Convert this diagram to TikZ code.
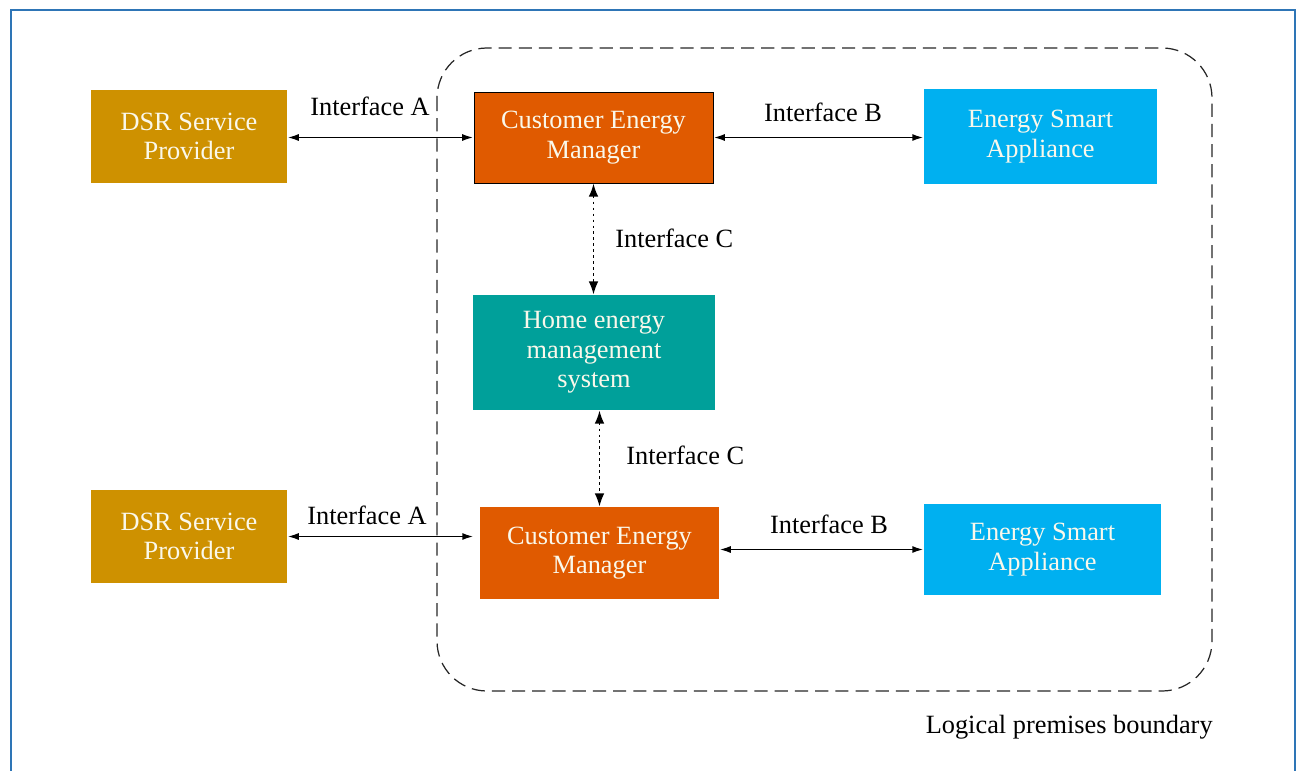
\documentclass[tikz,border=0pt]{standalone}
\usepackage{fontspec}
\setmainfont{Liberation Serif}
\usetikzlibrary{arrows.meta}

\definecolor{dsrgold}{RGB}{206,145,0}
\definecolor{cemorange}{RGB}{224,90,0}
\definecolor{esablue}{RGB}{0,176,240}
\definecolor{hemsteal}{RGB}{0,160,154}
\definecolor{frameblue}{RGB}{46,117,182}
\definecolor{boxtext}{RGB}{250,248,235}

\begin{document}
\begin{tikzpicture}[x=0.02cm,y=-0.02cm,
        font=\fontsize{15}{16.8}\selectfont,
        unit/.style={text=boxtext,align=center,inner sep=0pt},
        link/.style={{Latex[length=6.5pt,width=4pt]}-{Latex[length=6.5pt,width=4pt]},line width=1.1pt},
        dotlink/.style={{Latex[length=7.5pt,width=5.5pt]}-{Latex[length=7.5pt,width=5.5pt]},line width=1.1pt,dash pattern=on 1.6pt off 1.8pt},
        lbl/.style={inner sep=0pt}]
    \useasboundingbox (0,0) rectangle (1299,771);
    \draw[frameblue,line width=1.2pt] (11,771)--(11,10)--(1295,10)--(1295,771);

    % premises boundary
    \draw[black!85,line width=0.7pt,dash pattern=on 7.5pt off 4pt,rounded corners=1cm]
        (437,48) rectangle (1212,691);
    \node[lbl,anchor=east] (bound) at (1213,727) {Logical premises boundary};

    % top row
    \node[unit,fill=dsrgold,minimum width=3.92cm,minimum height=1.86cm] (dsrA) at (189,136.5) {DSR Service\\Provider};
    \node[unit,fill=cemorange,draw=black,line width=0.5pt,minimum width=4.78cm,minimum height=1.82cm] (cemA) at (593.5,137.5) {Customer Energy\\Manager};
    \node[unit,fill=esablue,minimum width=4.66cm,minimum height=1.9cm] (esaA) at (1040.5,136.5) {Energy Smart\\Appliance};

    % middle
    \node[unit,fill=hemsteal,minimum width=4.84cm,minimum height=2.3cm] (hems) at (594,352.5) {Home energy\\management\\system};

    % bottom row
    \node[unit,fill=dsrgold,minimum width=3.92cm,minimum height=1.86cm] (dsrB) at (189,536.5) {DSR Service\\Provider};
    \node[unit,fill=cemorange,minimum width=4.78cm,minimum height=1.84cm] (cemB) at (599.5,553) {Customer Energy\\Manager};
    \node[unit,fill=esablue,minimum width=4.74cm,minimum height=1.82cm] (esaB) at (1042.5,549.5) {Energy Smart\\Appliance};

    % interfaces
    \draw[link] (dsrA.east |- cemA.west)--(cemA.west);
    \node[lbl] (ifA1) at (370,106) {Interface A};
    \draw[link] (cemA.east)--(esaA.west |- cemA.east);
    \node[lbl] (ifB1) at (823,112) {Interface B};
    \draw[dotlink] (cemA.south)--(cemA.south |- hems.north);
    \node[lbl,anchor=west] (ifC1) at (615,238) {Interface C};
    \draw[dotlink] (hems.south -| cemB.north)--(cemB.north);
    \node[lbl,anchor=west] (ifC2) at (626,455) {Interface C};
    \draw[link,shorten >=0.12cm] (dsrB.east)--(dsrB.east -| cemB.west);
    \node[lbl] (ifA2) at (367,515) {Interface A};
    \draw[link] (cemB.east |- esaB.west)--(esaB.west);
    \node[lbl] (ifB2) at (829,524) {Interface B};
\end{tikzpicture}
\end{document}
